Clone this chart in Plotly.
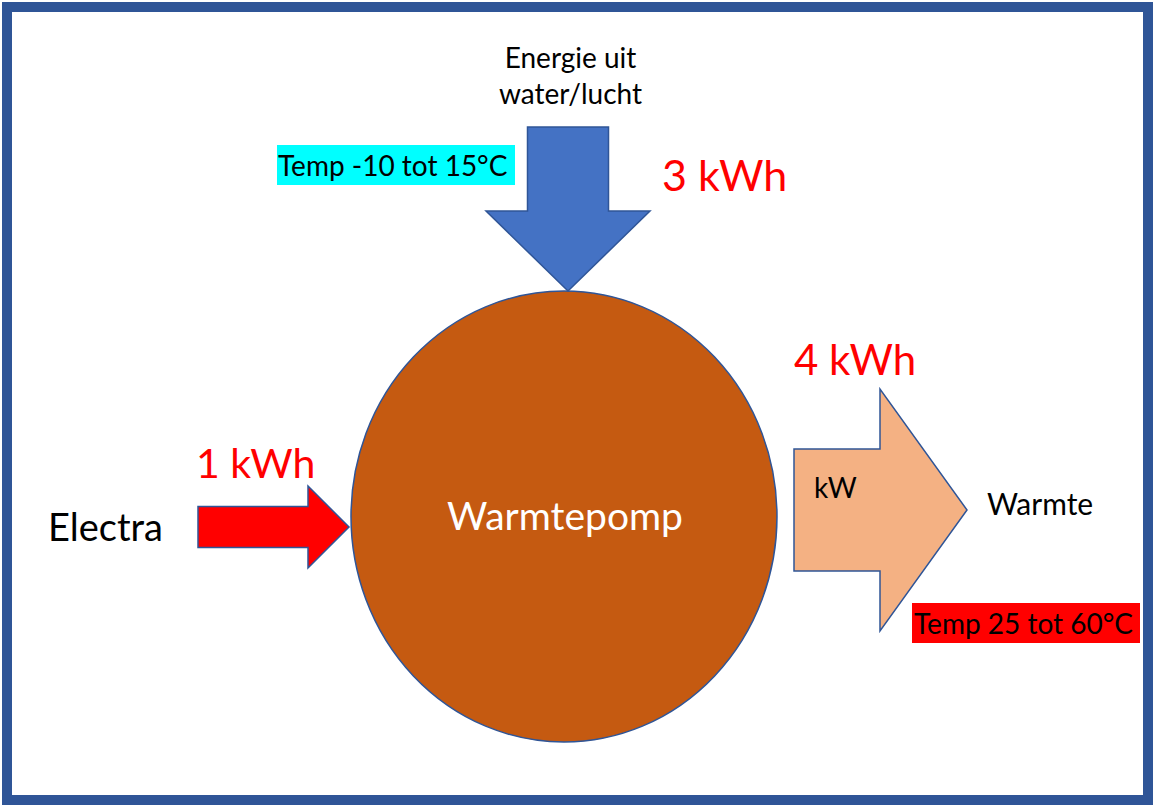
import plotly.graph_objects as go

# energy flows of the heat pump (kWh)
flow_names = ["Electra", "Energie uit<br>water/lucht", "Warmte"]
flow_kwh = [1, 3, 4]
source_temp = [-10, 15]   # degC
output_temp = [25, 60]    # degC

W, H = 1153, 805
FONT = "Lato"
EDGE = "#2F5597"


def arrow_right(x0, x1, xh, y_mid, shaft, head):
    # right-pointing block arrow
    return (f"M {x0} {y_mid - shaft} L {xh} {y_mid - shaft} L {xh} {y_mid - head} "
            f"L {x1} {y_mid} L {xh} {y_mid + head} L {xh} {y_mid + shaft} "
            f"L {x0} {y_mid + shaft} Z")


def arrow_down(x_mid, y0, y1, yh, shaft, head):
    return (f"M {x_mid - shaft} {y0} L {x_mid + shaft} {y0} L {x_mid + shaft} {yh} "
            f"L {x_mid + head} {yh} L {x_mid} {y1} L {x_mid - head} {yh} "
            f"L {x_mid - shaft} {yh} Z")


fig = go.Figure()

shapes = [
    # outer frame
    dict(type="rect", x0=7, x1=1148, y0=7, y1=800,
         line=dict(color=EDGE, width=10), fillcolor="white", layer="below"),
    # heat pump body
    dict(type="circle", x0=351, x1=777, y0=291, y1=742,
         fillcolor="#C55A11", line=dict(color=EDGE, width=1.5)),
    # energy from water/air
    dict(type="path", path=arrow_down(568, 127, 291, 211, 40.5, 82),
         fillcolor="#4472C4", line=dict(color=EDGE, width=1.5)),
    # electricity in
    dict(type="path", path=arrow_right(198, 349, 308, 527, 20.5, 41),
         fillcolor="#FF0000", line=dict(color=EDGE, width=1.5)),
    # heat out
    dict(type="path", path=arrow_right(794, 967, 880, 510, 61, 121),
         fillcolor="#F4B183", line=dict(color=EDGE, width=1.5)),
    # temperature label backgrounds
    dict(type="rect", x0=277, x1=515, y0=145, y1=185,
         fillcolor="#00FFFF", line=dict(width=0)),
    dict(type="rect", x0=912, x1=1140, y0=603, y1=643,
         fillcolor="#FF0000", line=dict(width=0)),
]


def label(x, y, text, size, color="black", xanchor="center"):
    fig.add_annotation(x=x, y=y, text=text, showarrow=False, xanchor=xanchor,
                       yanchor="middle",
                       font=dict(family=FONT, size=size, color=color))


label(570, 75, flow_names[1], 28)
label(276, 165, f"Temp {source_temp[0]} tot {source_temp[1]}°C", 28, xanchor="left")
label(660, 174, f"{flow_kwh[1]} kWh", 43, "#FF0000", xanchor="left")
label(194, 462, f"{flow_kwh[0]} kWh", 41, "#FF0000", xanchor="left")
label(46, 526, flow_names[0], 38, xanchor="left")
label(565, 515, "Warmtepomp", 39, "white")
label(792, 359, f"{flow_kwh[2]} kWh", 42, "#FF0000", xanchor="left")
label(812, 487, "kW", 28, xanchor="left")
label(985, 503, flow_names[2], 30, xanchor="left")
label(912, 623, f"Temp {output_temp[0]} tot {output_temp[1]}°C", 28, xanchor="left")

fig.update_layout(
    width=W, height=H,
    margin=dict(l=0, r=0, t=0, b=0),
    paper_bgcolor="white", plot_bgcolor="white",
    shapes=shapes,
    showlegend=False,
    xaxis=dict(range=[0, W], visible=False, fixedrange=True),
    yaxis=dict(range=[H, 0], visible=False, fixedrange=True),
)

fig.write_html(
    "out.html",
    config={"displayModeBar": False},
    post_script="document.body.style.margin='0';document.body.style.overflow='hidden';",
)
